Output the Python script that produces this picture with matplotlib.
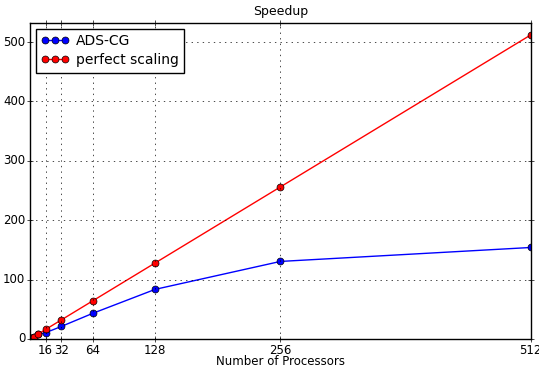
import matplotlib
matplotlib.use("Agg")
import matplotlib.pyplot as plt

# processor counts and measured speedup
procs = [1, 2, 4, 8, 16, 32, 64, 128, 256, 512]
ads_cg = [1, 2, 3.9, 7.5, 10.5, 21, 43, 83.5, 130.5, 154]
perfect = [1, 2, 4, 8, 16, 32, 64, 128, 256, 512]
xticks = [16, 32, 64, 128, 256, 512]
yticks = [0, 100, 200, 300, 400, 500]

plt.style.use('classic')
fig = plt.figure(figsize=(5.39, 3.66), dpi=100)
ax = fig.add_axes([0.0557, 0.074, 0.929, 0.863])

ax.plot(procs, ads_cg, 'bo-', markersize=5, label='ADS-CG')
ax.plot(procs, perfect, 'ro-', markersize=5, label='perfect scaling')

ax.set_xticks(xticks)
ax.set_yticks(yticks)
ax.set_xlim(0, 512)
ax.set_ylim(0, 532)
ax.tick_params(labelsize=8.5, pad=1.5, direction='inout', length=4)
ax.grid(True)
ax.set_title('Speedup', fontsize=9, pad=6)
ax.set_xlabel('Number of Processors', fontsize=8.5, labelpad=-1)
ax.legend(loc='upper left', prop={'size': 10}, numpoints=3,
          borderaxespad=0.4, handletextpad=0.5, labelspacing=0.35)

fig.savefig('out.png', dpi=100)
